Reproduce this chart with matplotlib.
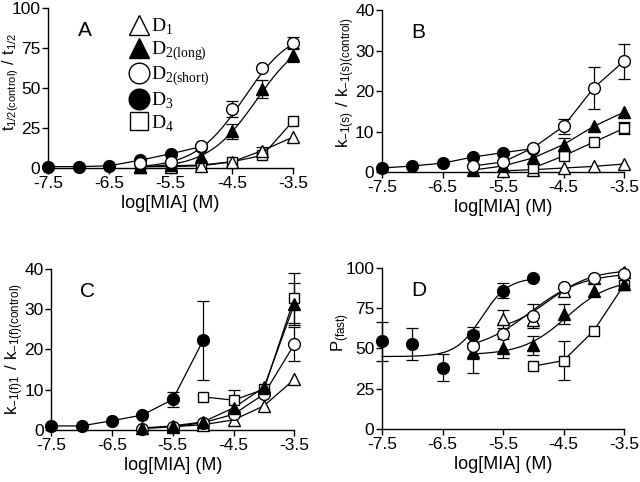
import numpy as np
import matplotlib
matplotlib.use("Agg")
import matplotlib.pyplot as plt
from matplotlib.lines import Line2D

plt.rcParams['font.family'] = ['Liberation Sans', 'DejaVu Sans']
plt.rcParams['mathtext.fontset'] = 'custom'
plt.rcParams['mathtext.rm'] = 'Liberation Serif'
plt.rcParams['mathtext.sf'] = 'Liberation Sans'
plt.rcParams['axes.unicode_minus'] = False

# ---------------- data ----------------
x_hi = [-6.0, -5.5, -5.0, -4.5, -4.0, -3.5]

# Panel A : t1/2(control)/t1/2
A_D3_x = [-7.5, -7.0, -6.5, -6.0, -5.5, -5.0]
A_D3_y = [1.0, 1.0, 1.5, 5.0, 9.0, 13.5]
A_D2s_y = [3.0, 4.0, 14.0, 37.0, 62.5, 78.5]
A_D2s_e = [0, 0, 0, 5.0, 0, 3.5]
A_D2l_y = [1.0, 2.0, 7.0, 23.0, 49.5, 70.5]
A_D2l_e = [0, 0, 0, 4.5, 5.5, 4.0]
A_D1_y = [1.0, 1.0, 1.5, 4.0, 11.0, 19.5]
A_D1_e = [0, 0, 0, 0, 2.0, 0]
A_D4_y = [1.0, 1.5, 2.0, 4.0, 8.0, 29.5]
# sigmoid fit parameters (bottom, top, logEC50, hill)
A_D2s_fit = (0.0, 88.0, -4.3, 1.1)
A_D2l_fit = (0.0, 85.0, -4.1, 1.1)

# Panel B : k-1(s)/k-1(s)(control)
B_D3_x = [-7.5, -7.0, -6.5, -6.0, -5.5, -5.0]
B_D3_y = [1.0, 1.5, 2.2, 3.7, 4.8, 5.8]
B_D2s_y = [1.5, 2.5, 6.0, 11.3, 20.8, 27.4]
B_D2s_e = [0, 0, 0, 1.8, 5.2, 4.3]
B_D2l_y = [0.5, 1.5, 3.5, 6.8, 11.3, 14.8]
B_D2l_e = [0, 0, 0, 1.6, 0, 0]
B_D4_x = [-5.0, -4.5, -4.0, -3.5]
B_D4_y = [1.0, 4.0, 7.4, 10.8]
B_D4_e = [0, 0, 0, 1.5]
B_D1_x = [-5.5, -5.0, -4.5, -4.0, -3.5]
B_D1_y = [0.3, 0.6, 1.0, 1.4, 2.0]

# Panel C : k-1(f)1/k-1(f)(control)
C_D3_x = [-7.5, -7.0, -6.5, -6.0, -5.5, -5.0]
C_D3_y = [1.0, 1.0, 2.3, 3.7, 7.6, 22.3]
C_D3_e = [0, 0, 0, 0, 1.8, 9.8]
C_D4_x = [-5.0, -4.5, -4.0, -3.5]
C_D4_y = [8.2, 7.4, 10.1, 32.8]
C_D4_e = [0, 2.6, 0, 6.3]
C_D2l_y = [0.5, 1.0, 2.0, 5.5, 10.6, 31.3]
C_D2l_e = [0, 0, 0, 0, 0, 5.3]
C_D2s_y = [0.3, 0.8, 1.8, 3.9, 8.9, 21.3]
C_D2s_e = [0, 0, 0, 0, 0, 4.2]
C_D1_x = [-5.5, -5.0, -4.5, -4.0, -3.5]
C_D1_y = [0.8, 1.3, 2.5, 6.0, 12.6]

# Panel D : P(fast)
D_D3_x = [-7.5, -7.0, -6.5, -6.0, -5.5, -5.0]
D_D3_y = [54.5, 53.0, 38.0, 58.5, 86.0, 94.0]
D_D3_e = [12.0, 10.0, 8.5, 5.0, 4.5, 0]
D_D2s_y = [51.5, 59.0, 70.0, 88.0, 93.5, 96.0]
D_D2s_e = [8.0, 0, 7.5, 0, 0, 0]
D_D2l_y = [48.0, 50.0, 52.0, 71.5, 86.0, 90.0]
D_D2l_e = [13.0, 6.0, 6.0, 6.0, 0, 0]
D_D1_x = [-5.5, -5.0, -4.5, -4.0, -3.5]
D_D1_y = [68.5, 68.0, 85.5, 93.5, 97.5]
D_D1_e = [5.5, 0, 0, 0, 0]
D_D4_x = [-5.0, -4.5, -4.0, -3.5]
D_D4_y = [39.0, 42.5, 61.0, 89.5]
D_D4_e = [0, 12.0, 0, 0]
D_D3_fit = (45.0, 94.0, -5.85, 2.0)
D_D2s_fit = (48.0, 97.0, -5.05, 1.0)
D_D1_fit = (60.0, 99.0, -4.75, 1.2)
D_D2l_fit = (46.0, 93.0, -4.45, 1.2)

labels = [r'D$_{\mathrm{1}}$', r'D$_{\mathrm{2(long)}}$', r'D$_{\mathrm{2(short)}}$',
          r'D$_{\mathrm{3}}$', r'D$_{\mathrm{4}}$']

# ---------------- styles ----------------
STY = {
    'D1': dict(marker='^', mfc='white'),
    'D2l': dict(marker='^', mfc='black'),
    'D2s': dict(marker='o', mfc='white'),
    'D3': dict(marker='o', mfc='black'),
    'D4': dict(marker='s', mfc='white'),
}
MS = {'^': 8.5, 'o': 8.5, 's': 7.5}


def hill(x, p):
    b, t, ec, h = p
    return b + (t - b) / (1 + 10 ** ((ec - x) * h))


def series(ax, key, x, y, err=None, line=True, fit=None, z=3):
    st = STY[key]
    x = np.asarray(x); y = np.asarray(y)
    if fit is not None:
        xs = np.linspace(x.min(), x.max(), 200)
        ax.plot(xs, hill(xs, fit), color='black', lw=0.9, zorder=z, clip_on=False)
    elif line:
        ax.plot(x, y, color='black', lw=0.9, zorder=z, clip_on=False)
    if err is not None:
        e = np.asarray(err, dtype=float)
        m = e > 0
        if m.any():
            ax.errorbar(x[m], y[m], yerr=e[m], fmt='none', ecolor='black',
                        elinewidth=0.9, capsize=4, capthick=0.9, zorder=z, clip_on=False)
    ax.plot(x, y, ls='none', marker=st['marker'], ms=MS[st['marker']],
            mfc=st['mfc'], mec='black', mew=1.0, zorder=z + 1, clip_on=False)


def style_axes(ax, ymax, yticks, ylabel, letter, ylab_x=-0.105, ylab_y=0.5, ylab_fs=12):
    ax.set_xlim(-7.5, -3.5)
    ax.set_ylim(0, ymax)
    ax.set_xticks([-7.5, -6.5, -5.5, -4.5, -3.5])
    ax.set_xticklabels(['-7.5', '-6.5', '-5.5', '-4.5', '-3.5'])
    ax.set_yticks(yticks)
    ax.set_yticklabels([str(v) for v in yticks])
    for s in ['top', 'right']:
        ax.spines[s].set_visible(False)
    for s in ['left', 'bottom']:
        ax.spines[s].set_linewidth(1.0)
    ax.tick_params(direction='out', length=4, width=1.0, labelsize=12.5, pad=1.5)
    ax.set_xlabel('log[MIA] (M)', fontsize=13, labelpad=3)
    ax.set_ylabel(ylabel, fontsize=ylab_fs, labelpad=0)
    ax.yaxis.set_label_coords(ylab_x, ylab_y)
    ax.text(0.15, 0.86, letter, transform=ax.transAxes, fontsize=15,
            ha='center', va='center')


fig = plt.figure(figsize=(6.4, 4.82), dpi=100)
axA = fig.add_axes([0.075, 0.651, 0.383, 0.332])
axB = fig.add_axes([0.597, 0.643, 0.378, 0.336])
axC = fig.add_axes([0.080, 0.108, 0.380, 0.334])
axD = fig.add_axes([0.597, 0.110, 0.378, 0.334])

# Panel A
series(axA, 'D3', A_D3_x, A_D3_y)
series(axA, 'D4', x_hi, A_D4_y)
series(axA, 'D1', x_hi, A_D1_y, A_D1_e)
series(axA, 'D2l', x_hi, A_D2l_y, A_D2l_e, fit=A_D2l_fit)
series(axA, 'D2s', x_hi, A_D2s_y, A_D2s_e, fit=A_D2s_fit)
style_axes(axA, 100, [0, 25, 50, 75, 100],
           r'$\mathsf{t_{1/2(control)}\ /\ t_{1/2}}$', 'A', ylab_x=-0.11,
           ylab_y=0.54, ylab_fs=11.5)

handles = [Line2D([], [], ls='none', marker=STY[k]['marker'], ms=MS[STY[k]['marker']],
                  mfc=STY[k]['mfc'], mec='black', mew=1.0)
           for k in ['D1', 'D2l', 'D2s', 'D3', 'D4']]
leg = axA.legend(handles, labels, loc='upper left', bbox_to_anchor=(0.28, 1.03),
                 frameon=False, markerscale=1.75, handlelength=0.9,
                 handletextpad=0.15, labelspacing=0.12, borderpad=0.2,
                 prop={'family': 'Liberation Serif', 'size': 14})

# Panel B
series(axB, 'D3', B_D3_x, B_D3_y)
series(axB, 'D1', B_D1_x, B_D1_y)
series(axB, 'D4', B_D4_x, B_D4_y, B_D4_e)
series(axB, 'D2l', x_hi, B_D2l_y, B_D2l_e)
series(axB, 'D2s', x_hi, B_D2s_y, B_D2s_e)
style_axes(axB, 40, [0, 10, 20, 30, 40],
           r'$\mathsf{k_{-1(s)}\ /\ k_{-1(s)(control)}}$', 'B', ylab_x=-0.105, ylab_y=0.55)

# Panel C
series(axC, 'D3', C_D3_x, C_D3_y, C_D3_e)
series(axC, 'D1', C_D1_x, C_D1_y)
series(axC, 'D2s', x_hi, C_D2s_y, C_D2s_e)
series(axC, 'D4', C_D4_x, C_D4_y, C_D4_e)
series(axC, 'D2l', x_hi, C_D2l_y, C_D2l_e)
style_axes(axC, 40, [0, 10, 20, 30, 40],
           r'$\mathsf{k_{-1(f)1}\ /\ k_{-1(f)(control)}}$', 'C', ylab_x=-0.105, ylab_y=0.5)

# Panel D
series(axD, 'D4', D_D4_x, D_D4_y, D_D4_e)
series(axD, 'D2l', x_hi, D_D2l_y, D_D2l_e, fit=D_D2l_fit)
series(axD, 'D1', D_D1_x, D_D1_y, D_D1_e, fit=D_D1_fit)
series(axD, 'D2s', x_hi, D_D2s_y, D_D2s_e, fit=D_D2s_fit)
series(axD, 'D3', D_D3_x, D_D3_y, D_D3_e, fit=D_D3_fit)
style_axes(axD, 100, [0, 25, 50, 75, 100], r'$\mathsf{P_{(fast)}}$', 'D',
           ylab_x=-0.125, ylab_y=0.6)

fig.savefig('out.png', dpi=100)
